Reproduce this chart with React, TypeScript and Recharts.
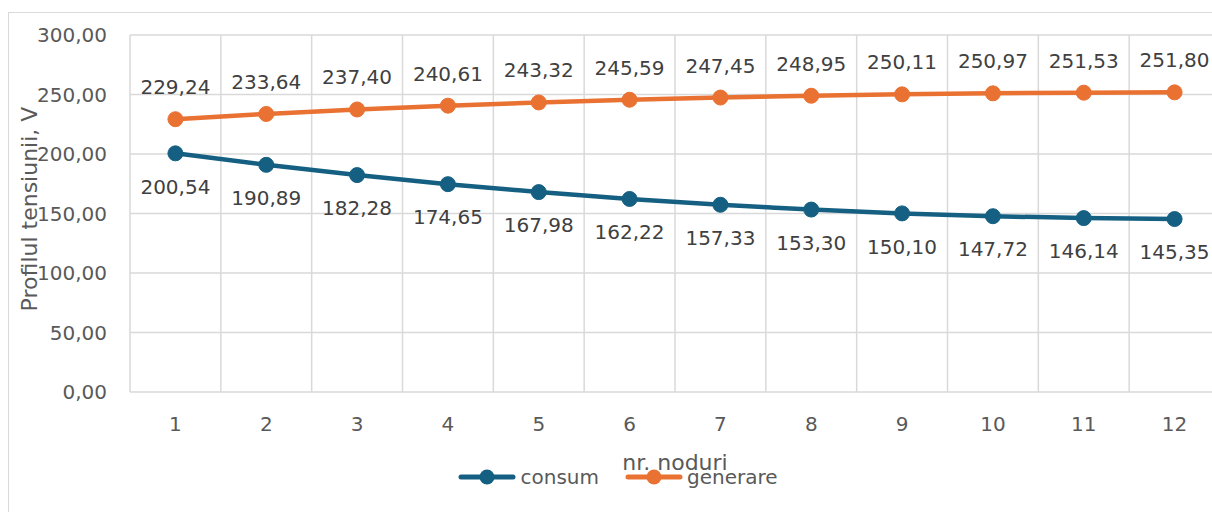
import { LineChart, Line, XAxis, YAxis, CartesianGrid, Legend, LabelList } from "recharts";

const nodes = [1, 2, 3, 4, 5, 6, 7, 8, 9, 10, 11, 12];
const consum = [200.54, 190.89, 182.28, 174.65, 167.98, 162.22, 157.33, 153.3, 150.1, 147.72, 146.14, 145.35];
const generare = [229.24, 233.64, 237.4, 240.61, 243.32, 245.59, 247.45, 248.95, 250.11, 250.97, 251.53, 251.8];
const yTicks = [0, 50, 100, 150, 200, 250, 300];
const gridX = [0.5, 1.5, 2.5, 3.5, 4.5, 5.5, 6.5, 7.5, 8.5, 9.5, 10.5, 11.5, 12.5];

const data = nodes.map((n, i) => ({ node: n, consum: consum[i], generare: generare[i] }));

const FONT = "DejaVu Sans, sans-serif";
const fmt = (v: number) => v.toFixed(2).replace(".", ",");

const LegendContent = ({ payload }: any) => (
  <div style={{ display: "flex", justifyContent: "center", alignItems: "center", height: 22, fontFamily: FONT, fontSize: 20, color: "#595959" }}>
    {(payload || []).map((p: any, i: number) => (
      <div key={i} style={{ display: "flex", alignItems: "center", marginRight: i === 0 ? 26 : 0 }}>
        <svg width={58} height={18} style={{ marginRight: 4 }}>
          <line x1={3} y1={9} x2={55} y2={9} stroke={p.color} strokeWidth={5} strokeLinecap="round" />
          <circle cx={29} cy={9} r={7.5} fill={p.color} />
        </svg>
        <span>{p.value}</span>
      </div>
    ))}
  </div>
);

export default function App() {
  return (
    <div style={{ position: "fixed", left: 8, top: 12, right: 0, bottom: 0, overflow: "hidden" }}>
      <div style={{ width: 1220, height: 520, border: "1px solid #D9D9D9", boxSizing: "border-box", background: "#fff" }}>
        <LineChart width={1218} height={518} data={data} margin={{ top: 22, right: 7, left: 0, bottom: 0 }}>
          <CartesianGrid stroke="#D9D9D9" strokeWidth={1.5} verticalValues={gridX} horizontalValues={yTicks} />
          <XAxis
            dataKey="node"
            type="number"
            domain={[0.5, 12.5]}
            ticks={nodes}
            allowDataOverflow
            axisLine={false}
            tickLine={false}
            tickSize={0}
            tickMargin={25}
            height={139}
            tick={{ fontSize: 20, fill: "#595959", fontFamily: FONT }}
            label={{
              content: ({ viewBox }: any) => (
                <text x={viewBox.x + viewBox.width / 2} y={viewBox.y + 78} textAnchor="middle" fontSize={22} fill="#595959" fontFamily={FONT}>
                  nr. noduri
                </text>
              ),
            }}
          />
          <YAxis
            domain={[0, 300]}
            ticks={yTicks}
            width={121}
            axisLine={false}
            tickLine={false}
            tickSize={0}
            tickMargin={23}
            tickFormatter={fmt}
            tick={{ fontSize: 20, fill: "#595959", fontFamily: FONT }}
            label={{
              content: () => (
                <text x={28} y={196} transform="rotate(-90 28 196)" textAnchor="middle" fontSize={22} fill="#595959" fontFamily={FONT}>
                  Profilul tensiunii, V
                </text>
              ),
            }}
          />
          <Legend
            layout="horizontal"
            verticalAlign="middle"
            align="center"
            wrapperStyle={{ top: 453, left: 0, width: 1218 }}
            content={<LegendContent />}
          />
          <Line
            dataKey="consum"
            name="consum"
            stroke="#156082"
            strokeWidth={4.5}
            dot={{ r: 7.5, fill: "#156082", stroke: "#156082", strokeWidth: 1 }}
            isAnimationActive={false}
          >
            <LabelList dataKey="consum" position="bottom" offset={26} formatter={fmt} fontSize={20} fill="#404040" fontFamily={FONT} />
          </Line>
          <Line
            dataKey="generare"
            name="generare"
            stroke="#E97132"
            strokeWidth={4.5}
            dot={{ r: 7.5, fill: "#E97132", stroke: "#E97132", strokeWidth: 1 }}
            isAnimationActive={false}
          >
            <LabelList dataKey="generare" position="top" offset={25} formatter={fmt} fontSize={20} fill="#404040" fontFamily={FONT} />
          </Line>
        </LineChart>
      </div>
    </div>
  );
}
